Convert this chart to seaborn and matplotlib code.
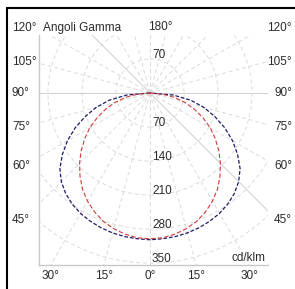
import numpy as np
import pandas as pd
import matplotlib.pyplot as plt
import seaborn as sns
from matplotlib.lines import Line2D
from matplotlib.patches import Circle

# angoli gamma (gradi) e intensità in cd/klm
gamma = [0, 5, 10, 15, 20, 25, 30, 35, 40, 45, 50, 55, 60, 65, 70, 75, 80, 85, 90]
blue_cd = [302, 301, 300, 298, 295, 291, 286, 279, 270, 258, 242, 220, 196, 170, 142, 115, 85, 48, 0]
red_cd = [300, 299, 295, 289, 281, 270, 257, 242, 224, 205, 185, 164, 143, 120, 97, 74, 50, 25, 0]

rings = [70, 140, 210, 280, 350]
side_labels = ["120°", "105°", "90°", "75°", "60°", "45°"]
side_label_y = [28, 62, 93, 127, 166, 220]   # posizione in pixel
bottom_ticks = [-30, -15, 0, 15, 30]

sns.set_style("white")
plt.rcParams['font.family'] = ['Liberation Sans', 'DejaVu Sans']

W, H = 295, 289
fig = plt.figure(figsize=(W / 100, H / 100), dpi=100)
ax = fig.add_axes([39 / W, 24 / H, 229 / W, 230 / H])

px = 0.486  # pixel per cd/klm
cx, cy = 150, 93
ax.set_xlim((39 - cx) / px, (268 - cx) / px)
ax.set_ylim(-(265 - cy) / px, (cy - 35) / px)
ax.set_aspect('equal')
ax.set_xticks([])
ax.set_yticks([])
for s in ['top', 'right']:
    ax.spines[s].set_visible(False)
for s in ['left', 'bottom']:
    ax.spines[s].set_color('#c8c8c8')
    ax.spines[s].set_linewidth(1.0)

grid_col = '#dadada'
# cerchi
for r in rings:
    ax.add_patch(Circle((0, 0), r, fill=False, ec=grid_col, lw=0.7, ls=(0, (4, 3))))
# raggi ogni 15°
for g in range(0, 181, 15):
    for side in (-1, 1):
        t = np.radians(g)
        x = [0, side * 800 * np.sin(t)]
        y = [0, -800 * np.cos(t)]
        solid = g == 90 or (side == -1 and g == 135) or (side == 1 and g == 45)
        ax.plot(x, y, color='#cfcfcf' if solid else grid_col, lw=0.7,
                ls='-' if solid else (0, (4, 3)), zorder=1)

# curve fotometriche
def curve(vals):
    g = np.radians(np.array(gamma))
    v = np.array(vals, dtype=float)
    xs = np.concatenate([-(v * np.sin(g))[::-1], (v * np.sin(g))[1:]])
    ys = np.concatenate([-(v * np.cos(g))[::-1], -(v * np.cos(g))[1:]])
    return pd.DataFrame({'x': xs, 'y': ys})

b = curve(blue_cd)
r = curve(red_cd)
sns.lineplot(data=b, x='x', y='y', sort=False, estimator=None, ax=ax,
             color='#1c1c6a', lw=0.9, ls=(0, (3, 1.5)), zorder=3)
sns.lineplot(data=r, x='x', y='y', sort=False, estimator=None, ax=ax,
             color='#d23a3a', lw=0.8, ls=(0, (4, 2)), zorder=3)
ax.set_xlabel('')
ax.set_ylabel('')

fs = 8.5
tc = '#2a2a2a'
# etichette radiali
for rv in rings:
    ax.text(4, -rv + 8, str(rv), fontsize=fs, color=tc, ha='left', va='center')
ax.text(4, 70 + 8, '70', fontsize=fs, color=tc, ha='left', va='center')

def fy(p):
    return 1 - p / H

for lab, yp in zip(side_labels, side_label_y):
    fig.text(12 / W, fy(yp), lab, fontsize=fs, color=tc, ha='left', va='center')
    fig.text(292 / W, fy(yp), lab, fontsize=fs, color=tc, ha='right', va='center')
fig.text(43 / W, fy(28), 'Angoli Gamma', fontsize=fs, color=tc, ha='left', va='center')
fig.text(160 / W, fy(27), '180°', fontsize=fs, color=tc, ha='center', va='center')
fig.text(266 / W, fy(258), 'cd/klm', fontsize=fs, color=tc, ha='right', va='center')

ybot = ax.get_ylim()[0]
trans = ax.get_xaxis_transform()
for g in bottom_ticks:
    xb = -ybot * np.tan(np.radians(abs(g))) * np.sign(g)
    ax.text(xb, -11 / 230, f"{abs(g)}°", fontsize=fs, color=tc, ha='center', va='center',
            transform=trans, clip_on=False)

# cornice nera (solo lati superiore e sinistro)
fig.add_artist(Line2D([7 / W, 1], [fy(8), fy(8)], color='black', lw=1.5, transform=fig.transFigure))
fig.add_artist(Line2D([7 / W, 7 / W], [fy(8), 0], color='black', lw=1.5, transform=fig.transFigure))

fig.savefig('out.png', dpi=100)
